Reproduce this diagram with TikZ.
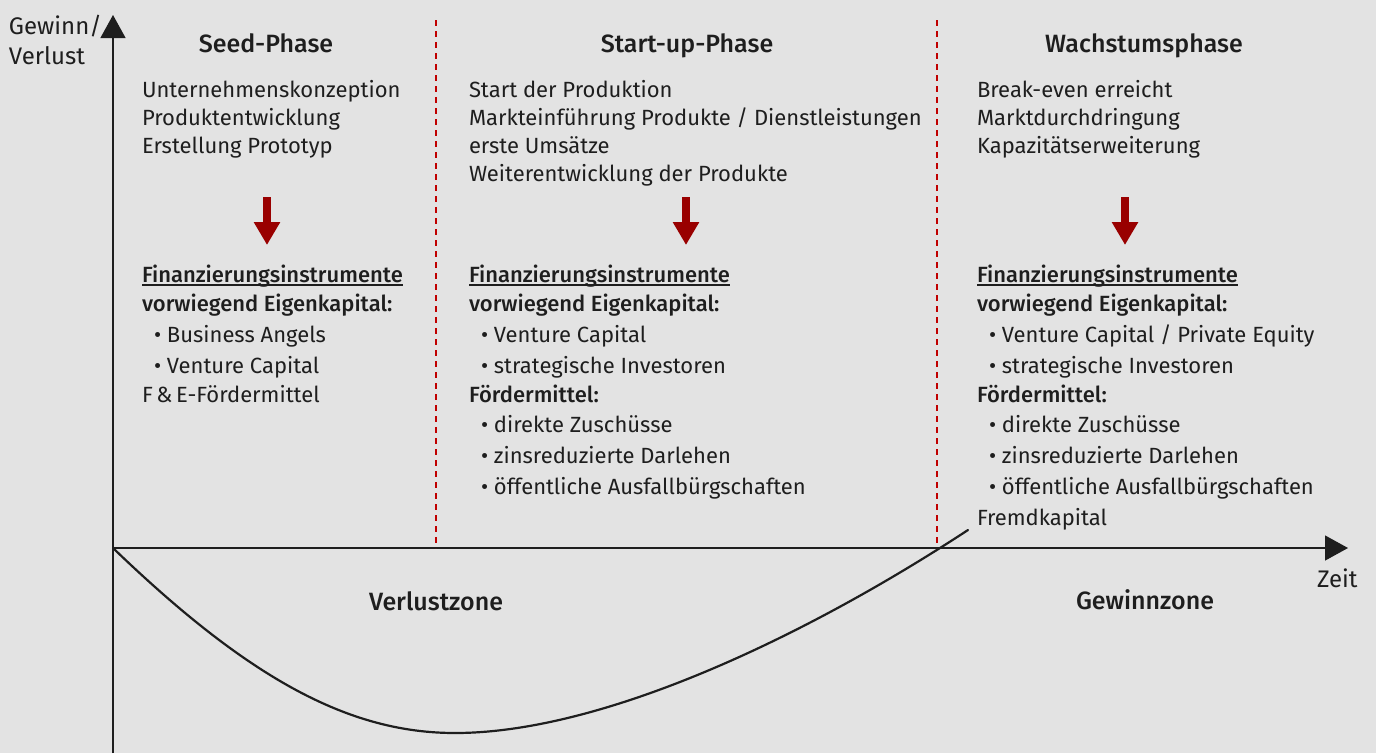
\documentclass[tikz,border=0pt]{standalone}
\usepackage{fontspec}
\setmainfont{Fira Sans}[BoldFont={Fira Sans Medium}]
\usetikzlibrary{arrows.meta}

\definecolor{bg}{HTML}{E3E3E3}
\definecolor{ink}{HTML}{1E1E1E}
\definecolor{arrowred}{HTML}{990000}
\definecolor{dashred}{HTML}{C00000}

\newcommand\bodyfont{\fontsize{22}{26}\selectfont}
\newcommand\axisfont{\fontsize{24}{28}\selectfont}
\newcommand\headfont{\fontsize{25}{30}\selectfont\bfseries}
% bullet item with indent
\newcommand\bul{\hspace*{12pt}•\ }
% underline that runs close under the baseline
\newcommand\ulfin[1]{\setbox0=\hbox{#1}\rlap{\color{ink}\rule[-3.5pt]{\wd0}{1.3pt}}\box0}

\begin{document}
\begin{tikzpicture}[x=1pt,y=-1pt,
  every node/.style={inner sep=0pt, outer sep=0pt, text=ink},
  line/.style={anchor=base west, font=\bodyfont},
  axislabel/.style={anchor=base west, font=\axisfont},
  head/.style={anchor=base, font=\headfont},
  axis/.style={draw=ink, line width=1.3pt, -{Triangle[width=25pt,length=23pt]}},
  phase/.style={draw=dashred, line width=1.2pt, dash pattern=on 6pt off 5pt},
  down/.style={draw=arrowred, line width=7.5pt, -{Triangle[width=25pt,length=23pt]}},
  profit/.style={draw=ink, line width=2.2pt, line cap=round}]

\fill[bg] (0,0) rectangle (1376,753);
\useasboundingbox (0,0) rectangle (1376,753);

% axes
\coordinate (origin) at (113,548);
\coordinate (ybot) at (113,753);
\coordinate (ytop) at (113,15);
\coordinate (xend) at (1348,548);
\draw[axis] (ybot) -- (ytop);
\draw[axis] (origin) -- (xend);

\node[axislabel] (ylab1) at (9,34) {Gewinn/};
\node[axislabel] (ylab2) at (9,64) {Verlust};
\node[axislabel] (xlab) at (1317,587) {Zeit};

% phase separators
\coordinate (sep1t) at (436,20);
\coordinate (sep1b) at (436,548);
\coordinate (sep2t) at (937,20);
\coordinate (sep2b) at (937,548);
\draw[phase] (sep1t) -- (sep1b);
\draw[phase] (sep2t) -- (sep2b);

% profit / loss curve
\coordinate (low) at (455,733);
\coordinate (cend) at (968,530);
\draw[profit] (origin) .. controls (250,680) and (350,733) .. (low)
                       .. controls (600,733) and (800,640) .. (cend);

\node[head] (loss) at (436,610) {Verlustzone};
\node[head] (gain) at (1145,609) {Gewinnzone};

% headings
\node[head] (h1) at (266,52) {Seed-Phase};
\node[head] (h2) at (687,52) {Start-up-Phase};
\node[head] (h3) at (1144,52) {Wachstumsphase};

% activities
\foreach \y/\t [count=\i] in {97/Unternehmenskonzeption, 125/Produktentwicklung, 153/Erstellung Prototyp}
  \node[line] (seed-a\i) at (142,\y) {\t};
\foreach \y/\t [count=\i] in {97/Start der Produktion, 125/{Markteinführung Produkte / Dienstleistungen}, 153/erste Umsätze, 181/Weiterentwicklung der Produkte}
  \node[line] (start-a\i) at (469,\y) {\t};
\foreach \y/\t [count=\i] in {97/Break-even erreicht, 125/Marktdurchdringung, 153/Kapazitätserweiterung}
  \node[line] (grow-a\i) at (977,\y) {\t};

% red arrows
\coordinate (ar1t) at (267,197); \coordinate (ar1b) at (267,245);
\coordinate (ar2t) at (686,197); \coordinate (ar2b) at (686,245);
\coordinate (ar3t) at (1125,197); \coordinate (ar3b) at (1125,245);
\draw[down] (ar1t) -- (ar1b);
\draw[down] (ar2t) -- (ar2b);
\draw[down] (ar3t) -- (ar3b);

% financing instruments
\foreach \y/\t [count=\i] in {
   282/{\bfseries\ulfin{Finanzierungsinstrumente}},
   311/{\bfseries vorwiegend Eigenkapital:},
   342/{\bul Business Angels},
   373/{\bul Venture Capital},
   402/{F\,\&\,E-Fördermittel}}
  \node[line] (seed-f\i) at (142,\y) {\t};
\foreach \y/\t [count=\i] in {
   282/{\bfseries\ulfin{Finanzierungsinstrumente}},
   311/{\bfseries vorwiegend Eigenkapital:},
   342/{\bul Venture Capital},
   373/{\bul strategische Investoren},
   402/{\bfseries Fördermittel:},
   432/{\bul direkte Zuschüsse},
   463/{\bul zinsreduzierte Darlehen},
   494/{\bul öffentliche Ausfallbürgschaften}}
  \node[line] (start-f\i) at (469,\y) {\t};
\foreach \y/\t [count=\i] in {
   282/{\bfseries\ulfin{Finanzierungsinstrumente}},
   311/{\bfseries vorwiegend Eigenkapital:},
   342/{\bul Venture Capital / Private Equity},
   373/{\bul strategische Investoren},
   402/{\bfseries Fördermittel:},
   432/{\bul direkte Zuschüsse},
   463/{\bul zinsreduzierte Darlehen},
   494/{\bul öffentliche Ausfallbürgschaften},
   525/{Fremdkapital}}
  \node[line] (grow-f\i) at (977,\y) {\t};

\end{tikzpicture}
\end{document}
